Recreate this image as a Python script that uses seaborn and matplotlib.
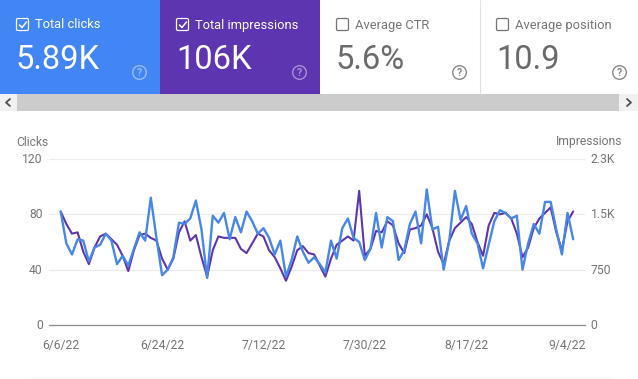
import pandas as pd
import numpy as np
import matplotlib
matplotlib.use("Agg")
import matplotlib.pyplot as plt
from matplotlib.patches import Rectangle, FancyBboxPatch, Circle
from matplotlib.transforms import ScaledTranslation
import seaborn as sns

W, H = 638, 379

clicks = [82, 59, 51, 62, 61, 46, 56, 58, 66, 61, 44, 50, 43, 55, 67, 61, 92, 63, 36, 40,
          49, 74, 73, 77, 90, 69, 34, 79, 74, 81, 62, 78, 67, 82, 75, 66, 70, 63, 51, 61,
          35, 47, 64, 53, 45, 49, 44, 38, 61, 48, 70, 77, 63, 60, 47, 55, 81, 56, 78, 75,
          47, 54, 73, 82, 59, 98, 69, 71, 40, 61, 97, 76, 86, 66, 59, 41, 58, 75, 83, 81,
          77, 79, 40, 59, 73, 66, 89, 89, 69, 51, 81, 62]
impressions = [1538, 1369, 1238, 1256, 994, 825, 1050, 1200, 1238, 1163, 1088, 938, 731, 1013, 1219,
               1238, 1181, 1144, 900, 750, 900, 1256, 1406, 1144, 1219, 919, 656, 1013, 1200, 1181,
               1181, 1181, 1031, 975, 1106, 1238, 1200, 1013, 919, 769, 600, 788, 1013, 1069, 975,
               956, 806, 656, 900, 1088, 1144, 1200, 1144, 1819, 938, 1031, 1275, 1256, 1406, 1350,
               1106, 975, 1294, 1313, 1350, 1500, 1313, 994, 825, 1144, 1313, 1388, 1463, 1369, 1125,
               938, 1350, 1519, 1500, 1519, 1444, 1238, 919, 1050, 1313, 1444, 1519, 1594, 1256, 1013,
               1406, 1538]
dates = pd.date_range("2022-06-06", periods=len(clicks), freq="D")

tick_labels = ["6/6/22", "6/24/22", "7/12/22", "7/30/22", "8/17/22", "9/4/22"]
click_ticks = [0, 40, 80, 120]
click_labels = ["0", "40", "80", "120"]
imp_ticks = [0, 750, 1500, 2250]
imp_labels = ["0", "750", "1.5K", "2.3K"]

cards = [("Total clicks", "5.89K", True), ("Total impressions", "106K", True),
         ("Average CTR", "5.6%", False), ("Average position", "10.9", False)]
card_colors = ["#4285F4", "#5E35B1", "white", "white"]

sns.set_theme(style="white")
plt.rcParams["font.family"] = ["Roboto", "DejaVu Sans"]

df = pd.DataFrame({"date": dates, "clicks": clicks, "impressions": impressions})

fig = plt.figure(figsize=(W / 100, H / 100), dpi=100)

# background layer in pixels, y going down like the screenshot
bg = fig.add_axes([0, 0, 1, 1])
bg.set_xlim(0, W)
bg.set_ylim(H, 0)
bg.axis("off")

grey = "#757575"
for i, (name, val, on) in enumerate(cards):
    x0 = i * 160
    bg.add_patch(Rectangle((x0, 0), 160, 94, fc=card_colors[i], ec="none"))
    col = "white" if on else grey
    bg.add_patch(FancyBboxPatch((x0 + 16.5, 18.5), 12, 12, boxstyle="round,pad=0,rounding_size=1.5",
                                fc="none", ec=col, lw=0.9))
    if on:
        bg.plot([x0 + 19.5, x0 + 22, x0 + 26.5], [25, 27.5, 22], color="white", lw=1.1)
    bg.text(x0 + 35.2, 25, name, color=col, fontsize=9.25, va="center", ha="left")
    bg.text(x0 + 16, 60, val, color="white" if on else "#6a6a6a", fontsize=23.5, va="center", ha="left")
    qc = "#ffffff" if on else grey
    alpha = 0.45 if on else 0.85
    bg.add_patch(Circle((x0 + 139.5, 72.5), 6.8, fc="none", ec=qc, lw=1.0, alpha=alpha))
    bg.text(x0 + 139.5, 72.8, "?", color=qc, alpha=alpha, fontsize=7.5, ha="center", va="center", fontweight="bold")
bg.plot([479.5, 479.5], [0, 94], color="#e0e0e0", lw=0.8)

# scrollbar
bg.add_patch(Rectangle((0, 94), W, 17, fc="#cccccc", ec="none"))
bg.add_patch(Rectangle((0, 94), 17, 17, fc="#f1f1f1", ec="none"))
bg.add_patch(Rectangle((619, 94), 19, 17, fc="#f1f1f1", ec="none"))
bg.plot([10, 6, 10], [99, 102.5, 106], color="#505050", lw=1.3)
bg.plot([627, 631, 627], [99, 102.5, 106], color="#505050", lw=1.3)
bg.plot([30, 610], [378, 378], color="#f3f3f3", lw=0.8)

# chart, pixel box 49..585 across, 159..325 down
ax = fig.add_axes([49 / W, 1 - 325 / H, (585 - 49) / W, (325 - 159) / H])
ax2 = ax.twinx()
ax.set_zorder(ax2.get_zorder() + 1)
ax.patch.set_visible(False)

sns.lineplot(data=df, x="date", y="impressions", ax=ax2, color="#5E35B1", linewidth=1.5)
sns.lineplot(data=df, x="date", y="clicks", ax=ax, color="#4687E8", linewidth=1.7)

ax.set_ylim(0, 120)
ax2.set_ylim(0, 2250)
ax.set_xlim(dates[0] - pd.Timedelta(days=2.08), dates[0] + pd.Timedelta(days=93.1))

ax.set_xticks(dates[::18])
ax.set_xticklabels(tick_labels, fontsize=8.7, color=grey)
ax.set_yticks(click_ticks)
ax.set_yticklabels(click_labels, fontsize=8.7, color=grey)
ax2.set_yticks(imp_ticks)
ax2.set_yticklabels(imp_labels, fontsize=8.7, color=grey)
ax.tick_params(axis="both", length=0)
ax.tick_params(axis="x", pad=10)
ax.tick_params(axis="y", pad=4.5)
ax2.tick_params(axis="y", length=0, pad=4)
ax.set_xlabel("")
ax.set_ylabel("")
ax2.set_ylabel("")

# tick labels sit a touch above their gridlines in the original
up = ScaledTranslation(0, 0.7 / 72, fig.dpi_scale_trans)
for t in ax.get_yticklabels() + ax2.get_yticklabels():
    t.set_transform(t.get_transform() + up)

ax2.grid(axis="y", color="#ececec", lw=0.9)
ax2.grid(axis="x", visible=False)
for a in (ax, ax2):
    for s in a.spines.values():
        s.set_visible(False)
ax.spines["bottom"].set_visible(True)
ax.spines["bottom"].set_color("#8c8c8c")
ax.spines["bottom"].set_linewidth(0.9)

bg.text(16, 142, "Clicks", color=grey, fontsize=8.7, ha="left", va="center")
bg.text(622, 142, "Impressions", color=grey, fontsize=8.7, ha="right", va="center")

fig.savefig("out.png", dpi=100)
